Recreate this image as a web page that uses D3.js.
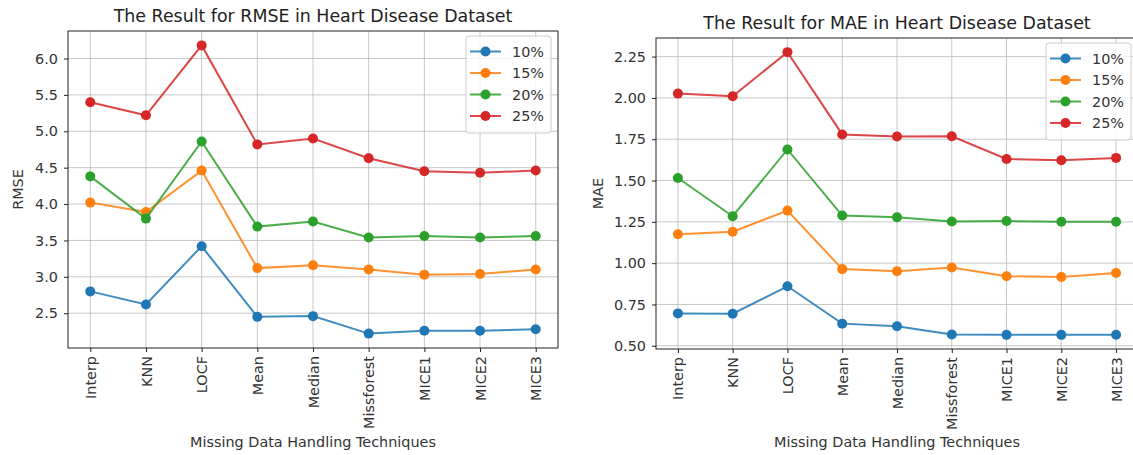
<!DOCTYPE html>
<html>
<head>
<meta charset="utf-8">
<script src="https://cdn.jsdelivr.net/npm/d3@7"></script>
<style>
  body { margin: 0; background: #fff; }
  svg { display: block; font-family: "DejaVu Sans", sans-serif; }
</style>
</head>
<body>
<div class="chart"></div>
<script>
var W = 1133, H = 455;

// categories and series
var techniques = ["Interp", "KNN", "LOCF", "Mean", "Median", "Missforest", "MICE1", "MICE2", "MICE3"];
var seriesNames = ["10%", "15%", "20%", "25%"];
var colors = ["#1f77b4", "#ff7f0e", "#2ca02c", "#d62728"];

// RMSE values
var rmse10 = [2.80, 2.62, 3.42, 2.45, 2.46, 2.22, 2.26, 2.26, 2.28];
var rmse15 = [4.02, 3.89, 4.46, 3.12, 3.16, 3.10, 3.03, 3.04, 3.10];
var rmse20 = [4.38, 3.80, 4.86, 3.69, 3.76, 3.54, 3.56, 3.54, 3.56];
var rmse25 = [5.40, 5.22, 6.18, 4.82, 4.90, 4.63, 4.45, 4.43, 4.46];

// MAE values
var mae10 = [0.696, 0.694, 0.860, 0.634, 0.618, 0.568, 0.566, 0.566, 0.567];
var mae15 = [1.175, 1.190, 1.318, 0.964, 0.951, 0.974, 0.921, 0.916, 0.940];
var mae20 = [1.515, 1.284, 1.688, 1.288, 1.278, 1.252, 1.255, 1.251, 1.250];
var mae25 = [2.026, 2.010, 2.277, 1.779, 1.766, 1.768, 1.630, 1.623, 1.637];

var rmseTicks = [2.5, 3.0, 3.5, 4.0, 4.5, 5.0, 5.5, 6.0];
var maeTicks = [0.50, 0.75, 1.00, 1.25, 1.50, 1.75, 2.00, 2.25];

var FS = "14.4px", TITLE_FS = "17.4px";

var svg = d3.select(".chart").append("svg")
  .attr("width", W)
  .attr("height", H);

function drawPanel(p) {
  var g = svg.append("g");
  var all = d3.merge(p.data);
  var lo = d3.min(all), hi = d3.max(all), pad = (hi - lo) * 0.05;

  // matplotlib style: 5% margins on both axes
  var x = d3.scaleLinear()
    .domain([-0.4, techniques.length - 1 + 0.4])
    .range([p.left, p.right]);
  var y = d3.scaleLinear()
    .domain([lo - pad, hi + pad])
    .range([p.bottom, p.top]);

  // grid
  g.append("g").selectAll("line").data(techniques).enter().append("line")
    .attr("x1", function(d, i) { return x(i); })
    .attr("x2", function(d, i) { return x(i); })
    .attr("y1", p.top).attr("y2", p.bottom)
    .attr("stroke", "#b0b0b0").attr("stroke-opacity", 0.7).attr("stroke-width", 1);
  g.append("g").selectAll("line").data(p.ticks).enter().append("line")
    .attr("x1", p.left).attr("x2", p.right)
    .attr("y1", function(d) { return y(d); })
    .attr("y2", function(d) { return y(d); })
    .attr("stroke", "#b0b0b0").attr("stroke-opacity", 0.7).attr("stroke-width", 1);

  // axes
  var xAxis = d3.axisBottom(x)
    .tickValues(d3.range(techniques.length))
    .tickFormat(function(i) { return techniques[i]; })
    .tickSize(4).tickPadding(4);
  var gx = g.append("g")
    .attr("transform", "translate(0," + p.bottom + ")")
    .call(xAxis);
  gx.select(".domain").remove();
  gx.selectAll(".tick text")
    .attr("transform", "rotate(-90)")
    .attr("text-anchor", "end")
    .attr("x", -8).attr("y", 0).attr("dy", "0.35em");

  var yAxis = d3.axisLeft(y)
    .tickValues(p.ticks)
    .tickFormat(d3.format(p.fmt))
    .tickSize(4).tickPadding(6);
  var gy = g.append("g")
    .attr("transform", "translate(" + p.left + ",0)")
    .call(yAxis);
  gy.select(".domain").remove();

  g.selectAll(".tick line").attr("stroke", "#222").attr("stroke-width", 1);
  g.selectAll(".tick text").attr("fill", "#333").style("font-size", FS)
    .style("font-family", "'DejaVu Sans', sans-serif");

  // frame
  g.append("rect")
    .attr("x", p.left).attr("y", p.top)
    .attr("width", p.right - p.left).attr("height", p.bottom - p.top)
    .attr("fill", "none").attr("stroke", "#222").attr("stroke-width", 1);

  // series
  var line = d3.line()
    .x(function(d, i) { return x(i); })
    .y(function(d) { return y(d); });
  p.data.forEach(function(vals, s) {
    g.append("path")
      .attr("d", line(vals))
      .attr("fill", "none")
      .attr("stroke", colors[s])
      .attr("stroke-opacity", 0.85)
      .attr("stroke-width", 2);
    g.append("g").selectAll("circle").data(vals).enter().append("circle")
      .attr("cx", function(d, i) { return x(i); })
      .attr("cy", function(d) { return y(d); })
      .attr("r", 5)
      .attr("fill", colors[s]);
  });

  // titles and labels
  g.append("text")
    .attr("x", (p.left + p.right) / 2).attr("y", p.top - 9)
    .attr("text-anchor", "middle")
    .attr("fill", "#222")
    .style("font-size", TITLE_FS)
    .text(p.title);
  g.append("text")
    .attr("x", (p.left + p.right) / 2).attr("y", 447)
    .attr("text-anchor", "middle")
    .attr("fill", "#333")
    .style("font-size", FS)
    .text("Missing Data Handling Techniques");
  g.append("text")
    .attr("transform", "translate(" + p.ylabelX + "," + ((p.top + p.bottom) / 2) + ") rotate(-90)")
    .attr("text-anchor", "middle")
    .attr("fill", "#333")
    .style("font-size", FS)
    .text(p.ylabel);

  // legend
  var bw = 85, bh = 97;
  var bx = p.right - 7 - bw, by = p.top + 5;
  var lg = g.append("g").attr("transform", "translate(" + bx + "," + by + ")");
  lg.append("rect")
    .attr("width", bw).attr("height", bh).attr("rx", 3)
    .attr("fill", "#fff").attr("fill-opacity", 0.8)
    .attr("stroke", "#cccccc").attr("stroke-width", 1);
  seriesNames.forEach(function(name, s) {
    var ry = 15.5 + s * 21.5;
    lg.append("line")
      .attr("x1", 4).attr("x2", 35).attr("y1", ry).attr("y2", ry)
      .attr("stroke", colors[s]).attr("stroke-opacity", 0.85).attr("stroke-width", 2);
    lg.append("circle").attr("cx", 19.5).attr("cy", ry).attr("r", 5).attr("fill", colors[s]);
    lg.append("text")
      .attr("x", 46).attr("y", ry).attr("dy", "0.35em")
      .attr("fill", "#333")
      .style("font-size", FS)
      .text(name);
  });
}

drawPanel({
  left: 68, right: 558, top: 31, bottom: 348,
  data: [rmse10, rmse15, rmse20, rmse25],
  ticks: rmseTicks, fmt: ".1f",
  title: "The Result for RMSE in Heart Disease Dataset",
  ylabel: "RMSE", ylabelX: 23
});

drawPanel({
  left: 656, right: 1138, top: 38, bottom: 349,
  data: [mae10, mae15, mae20, mae25],
  ticks: maeTicks, fmt: ".2f",
  title: "The Result for MAE in Heart Disease Dataset",
  ylabel: "MAE", ylabelX: 603
});
</script>
</body>
</html>
